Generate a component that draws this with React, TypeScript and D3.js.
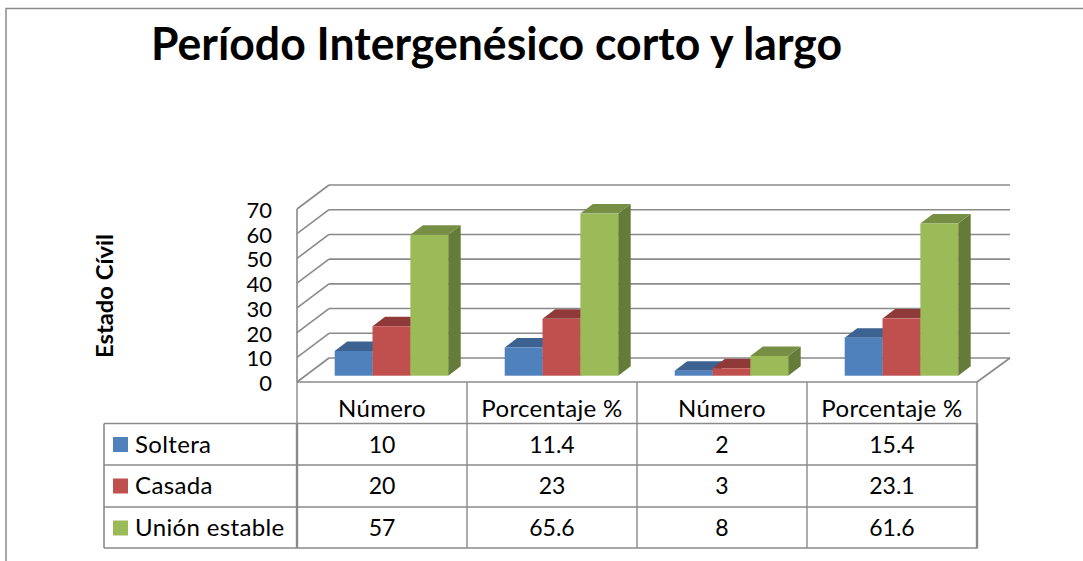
import React from "react";
import * as d3 from "d3";

const title = "Período Intergenésico corto y largo";
const axisTitle = "Estado Cívil";
const categories = ["Número", "Porcentaje %", "Número", "Porcentaje %"];
const seriesNames = ["Soltera", "Casada", "Unión estable"];
const soltera = ["10", "11.4", "2", "15.4"];
const casada = ["20", "23", "3", "23.1"];
const union = ["57", "65.6", "8", "61.6"];
const seriesLabels = [soltera, casada, union];
const yTicks = [0, 10, 20, 30, 40, 50, 60, 70];

// front, top, side
const colors = [
  ["#4f81bd", "#3c6291", "#2f4f78"],
  ["#c0504d", "#8f3a38", "#7a2f2d"],
  ["#9bbb59", "#778f44", "#657b38"],
];

const font = "Lato, Carlito, sans-serif";
const gridColor = "#8a8a8a";

// wall geometry
const wallLeft = 297;
const wallRight = 977;
const wallBottom = 382;
const wallTop = 209;
const depthX = 32;
const depthY = -24;
const barDepthX = 12.5;
const barDepthY = -9.5;
const floorFront = 375.7;

const rowTops = [423.5, 465, 507, 548];
const tableLeft = 104;

const x = d3
  .scaleBand<number>()
  .domain(d3.range(categories.length))
  .range([wallLeft, wallRight])
  .paddingInner(0)
  .paddingOuter(0);
const series = d3.scaleBand<number>().domain([0, 1, 2]).range([37.7, 151.2]);
const yWall = d3.scaleLinear().domain([0, 70]).range([wallBottom, wallTop]);
const yBar = d3.scaleLinear().domain([0, 70]).range([floorFront, floorFront - 173]);

function Bar({ s, c }: { s: number; c: number }) {
  const v = +seriesLabels[s][c];
  const x0 = x(c)! + series(s)!;
  const w = series.bandwidth();
  const top = yBar(v);
  const h = yBar(0) - top;
  const [front, topCol, side] = colors[s];
  return (
    <g>
      <path
        d={`M${x0 + w},${top}l${barDepthX},${barDepthY}v${h}l${-barDepthX},${-barDepthY}z`}
        fill={side}
      />
      <path
        d={`M${x0},${top}l${barDepthX},${barDepthY}h${w}l${-barDepthX},${-barDepthY}z`}
        fill={topCol}
      />
      <rect x={x0} y={top} width={w} height={h} fill={front} />
    </g>
  );
}

export default function App() {
  return (
    <svg
      width={1083}
      height={561}
      style={{ position: "fixed", left: 0, top: 0, display: "block", background: "#fff" }}
      fontFamily={font}
    >
      {/* chart frame, cut off by the page on the right and bottom */}
      <path d="M6,561V8.500H1083" fill="none" stroke={gridColor} strokeWidth={1.5} />

      <text
        x={151}
        y={60}
        fontSize={46}
        fontWeight={700}
        fill="#000"
        textLength={691}
        lengthAdjust="spacingAndGlyphs"
      >
        {title}
      </text>

      <text
        transform="translate(113,296) rotate(-90)"
        textAnchor="middle"
        fontSize={22}
        fontWeight={700}
        fill="#000"
        textLength={124}
        lengthAdjust="spacingAndGlyphs"
      >
        {axisTitle}
      </text>

      {/* back wall, side wall and floor */}
      {yTicks.map((t) => (
        <g key={t} stroke={gridColor} strokeWidth={1.6} fill="none">
          <line
            x1={wallLeft + depthX}
            x2={wallRight + depthX + 1}
            y1={yWall(t) + depthY}
            y2={yWall(t) + depthY}
          />
          <line x1={wallLeft} x2={wallLeft + depthX} y1={yWall(t)} y2={yWall(t) + depthY} />
        </g>
      ))}
      <line x1={wallLeft} x2={wallLeft} y1={wallTop} y2={wallBottom} stroke={gridColor} strokeWidth={1.6} />
      <line
        x1={wallRight}
        x2={wallRight + depthX + 1}
        y1={wallBottom}
        y2={wallBottom + depthY}
        stroke={gridColor}
        strokeWidth={1.6}
      />

      {yTicks.map((t) => (
        <text key={t} x={272} y={yWall(t) + 9} textAnchor="end" fontSize={22} fill="#000">
          {t}
        </text>
      ))}

      {categories.map((_, c) =>
        [0, 1, 2].map((s) => <Bar key={`${c}-${s}`} s={s} c={c} />)
      )}

      {/* data table */}
      <g stroke={gridColor} fill="none">
        <line x1={wallLeft} x2={wallRight} y1={wallBottom} y2={wallBottom} strokeWidth={1.6} />
        {rowTops.map((r) => (
          <line key={r} x1={tableLeft} x2={wallRight + 1} y1={r} y2={r} strokeWidth={1.6} />
        ))}
        <line x1={tableLeft} x2={tableLeft} y1={rowTops[0]} y2={rowTops[3]} strokeWidth={1.6} />
        {d3.range(categories.length + 1).map((i) => {
          const cx = wallLeft + i * x.bandwidth();
          const edge = i === 0 || i === categories.length;
          return (
            <React.Fragment key={i}>
              <line x1={cx} x2={cx} y1={wallBottom} y2={rowTops[0]} strokeWidth={1.4} />
              <line x1={cx} x2={cx} y1={rowTops[0]} y2={rowTops[3]} strokeWidth={edge ? 2.4 : 1.4} />
            </React.Fragment>
          );
        })}
      </g>

      {categories.map((cat, c) => (
        <text
          key={c}
          x={x(c)! + x.bandwidth() / 2}
          y={417}
          textAnchor="middle"
          fontSize={24}
          letterSpacing={0.35}
          fill="#000"
        >
          {cat}
        </text>
      ))}

      {seriesNames.map((name, s) => (
        <g key={name}>
          <rect x={113} y={rowTops[s] + 13.5} width={15} height={15} fill={colors[s][0]} />
          <text x={135} y={rowTops[s] + 29} fontSize={24} letterSpacing={0.35} fill="#000">
            {name}
          </text>
          {seriesLabels[s].map((label, c) => (
            <text
              key={c}
              x={x(c)! + x.bandwidth() / 2}
              y={rowTops[s] + 29}
              textAnchor="middle"
              fontSize={23}
              fill="#000"
            >
              {label}
            </text>
          ))}
        </g>
      ))}
    </svg>
  );
}
